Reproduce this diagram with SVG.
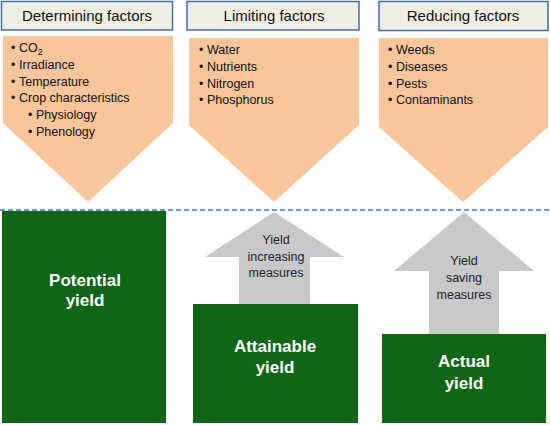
<svg xmlns="http://www.w3.org/2000/svg" width="550" height="425" viewBox="0 0 550 425">
<defs>
<style>
.hdr{fill:#eeeee4;stroke:#3f6fa5;stroke-width:1.5}
.hdrt{font-family:"Liberation Sans",Arial,sans-serif;font-size:15px;fill:#111;text-anchor:middle}
.pent{fill:#f9c59a}
.bul{font-family:"Liberation Sans",Arial,sans-serif;font-size:12.5px;fill:#111}
.grn{fill:#0f6614}
.gt{font-family:"Liberation Sans",Arial,sans-serif;font-size:17px;font-weight:bold;fill:#fff;text-anchor:middle}
.arr{fill:#c9c9cb}
.at{font-family:"Liberation Sans",Arial,sans-serif;font-size:12.5px;fill:#222;text-anchor:middle}
</style>
</defs>
<rect width="550" height="425" fill="#fff"/>

<g id="determining">
<rect class="hdr" x="1.5" y="1.5" width="171" height="28.5"/>
<text class="hdrt" x="87" y="21">Determining factors</text>
<polygon class="pent" points="3,36 173,36 173,123 88,202 3,123"/>
<text class="bul"><tspan x="11" y="52">•</tspan><tspan x="19" y="52">CO<tspan font-size="9" dy="3">2</tspan></tspan></text>
<text class="bul"><tspan x="11" y="69">•</tspan><tspan x="19" y="69">Irradiance</tspan></text>
<text class="bul"><tspan x="11" y="86">•</tspan><tspan x="19" y="86">Temperature</tspan></text>
<text class="bul"><tspan x="11" y="102">•</tspan><tspan x="19" y="102">Crop characteristics</tspan></text>
<text class="bul"><tspan x="28" y="119">•</tspan><tspan x="36" y="119">Physiology</tspan></text>
<text class="bul"><tspan x="28" y="136">•</tspan><tspan x="36" y="136">Phenology</tspan></text>
</g>

<g id="limiting">
<rect class="hdr" x="187" y="1.5" width="172" height="28.5"/>
<text class="hdrt" x="274" y="21">Limiting factors</text>
<polygon class="pent" points="189,38 359,38 359,125 274,202 189,125"/>
<text class="bul"><tspan x="199" y="54">•</tspan><tspan x="207" y="54">Water</tspan></text>
<text class="bul"><tspan x="199" y="71">•</tspan><tspan x="207" y="71">Nutrients</tspan></text>
<text class="bul"><tspan x="199" y="88">•</tspan><tspan x="207" y="88">Nitrogen</tspan></text>
<text class="bul"><tspan x="199" y="104">•</tspan><tspan x="207" y="104">Phosphorus</tspan></text>
</g>

<g id="reducing">
<rect class="hdr" x="379" y="1.5" width="169" height="29"/>
<text class="hdrt" x="463" y="21">Reducing factors</text>
<polygon class="pent" points="379,38 548,38 548,127 463,202 379,127"/>
<text class="bul"><tspan x="388" y="54">•</tspan><tspan x="396" y="54">Weeds</tspan></text>
<text class="bul"><tspan x="388" y="71">•</tspan><tspan x="396" y="71">Diseases</tspan></text>
<text class="bul"><tspan x="388" y="88">•</tspan><tspan x="396" y="88">Pests</tspan></text>
<text class="bul"><tspan x="388" y="104">•</tspan><tspan x="396" y="104">Contaminants</tspan></text>
</g>

<g id="connectors">
<line x1="0" y1="210" x2="550" y2="210" stroke="#3c7cc0" stroke-width="1.5" stroke-dasharray="5,3"/>
</g>

<g id="potential">
<rect class="grn" x="2" y="211" width="164" height="212"/>
<text class="gt" x="85" y="286">Potential</text>
<text class="gt" x="85" y="306">yield</text>
</g>

<g id="increasing">
<polygon class="arr" points="274,212 344,257 310,257 310,304 239,304 239,257 205,257"/>
<text class="at" x="276" y="244">Yield</text>
<text class="at" x="276" y="261">increasing</text>
<text class="at" x="276" y="277">measures</text>
</g>

<g id="attainable">
<rect class="grn" x="193" y="304" width="165" height="119"/>
<text class="gt" x="275" y="352">Attainable</text>
<text class="gt" x="275" y="373">yield</text>
</g>

<g id="saving">
<polygon class="arr" points="464,212 534,271 499,271 499,334 429,334 429,271 394,271"/>
<text class="at" x="464" y="265">Yield</text>
<text class="at" x="464" y="282">saving</text>
<text class="at" x="464" y="299">measures</text>
</g>

<g id="actual">
<rect class="grn" x="382" y="334" width="164" height="89"/>
<text class="gt" x="464" y="367">Actual</text>
<text class="gt" x="464" y="389">yield</text>
</g>
</svg>
